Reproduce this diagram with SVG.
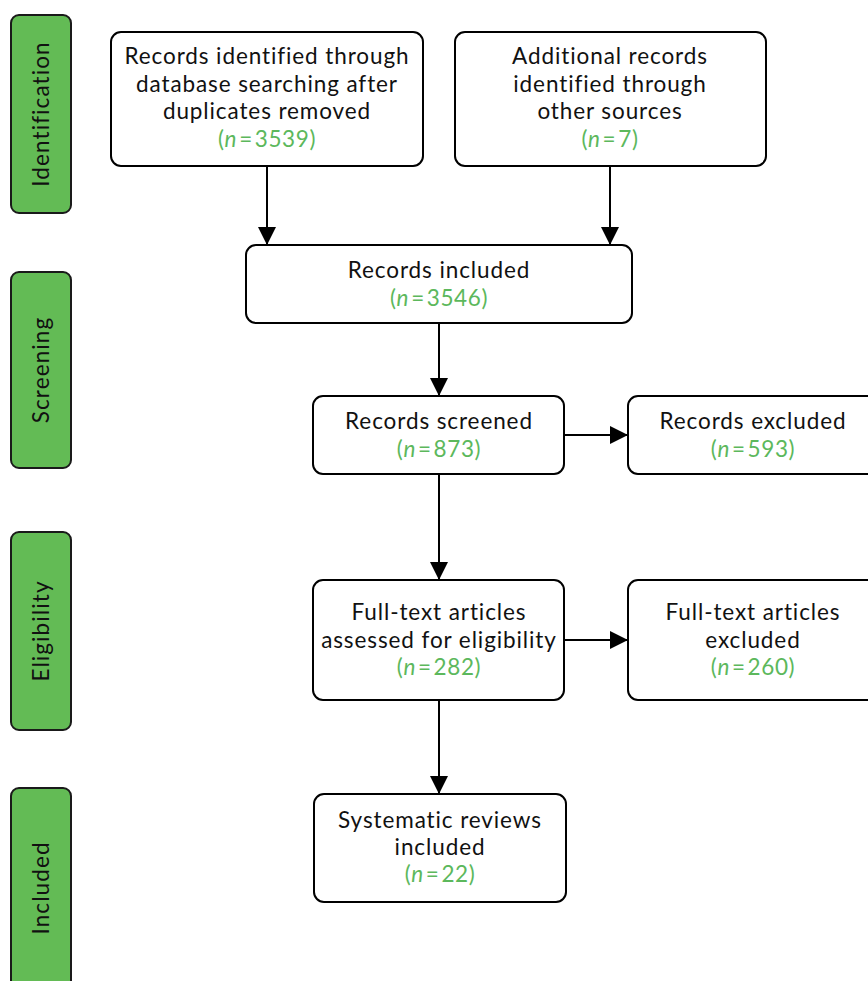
<svg xmlns="http://www.w3.org/2000/svg" width="868" height="981" viewBox="0 0 868 981">
  <style>
    .box { fill: #ffffff; stroke: #000000; stroke-width: 2; }
    .stage { fill: #63bb55; stroke: #1a1a1a; stroke-width: 2; }
    .t { font-family: Lato, "Noto Sans", sans-serif; font-size: 22.5px; letter-spacing: 0.9px; fill: #111111; text-anchor: middle; }
    .n { fill: #5cb85c; letter-spacing: 0.6px; }
    .st { font-family: Lato, "Noto Sans", sans-serif; font-size: 22.5px; letter-spacing: 1.1px; fill: #111111; text-anchor: middle; }
    .edge { stroke: #000000; stroke-width: 2; fill: none; marker-end: url(#arrowHead); }
  </style>
  <defs>
    <marker id="arrowHead" viewBox="0 0 18 18" refX="18" refY="9" markerWidth="18" markerHeight="18" markerUnits="userSpaceOnUse" orient="auto">
      <path d="M0,0 L18,9 L0,18 z" fill="#000000"/>
    </marker>
  </defs>

  <!-- stage labels -->
  <g id="stage-identification">
    <rect class="stage" x="11" y="15" width="60" height="198" rx="8"/>
    <text class="st" transform="translate(49,114) rotate(-90)">Identification</text>
  </g>
  <g id="stage-screening">
    <rect class="stage" x="11" y="272" width="60" height="196" rx="8"/>
    <text class="st" transform="translate(49,370) rotate(-90)">Screening</text>
  </g>
  <g id="stage-eligibility">
    <rect class="stage" x="11" y="532" width="60" height="198" rx="8"/>
    <text class="st" transform="translate(49,631) rotate(-90)">Eligibility</text>
  </g>
  <g id="stage-included">
    <rect class="stage" x="11" y="788" width="60" height="210" rx="8"/>
    <text class="st" transform="translate(49,888) rotate(-90)">Included</text>
  </g>

  <!-- connectors -->
  <g id="connectors">
    <line class="edge" x1="267" y1="166" x2="267" y2="245"/>
    <line class="edge" x1="610" y1="166" x2="610" y2="245"/>
    <line class="edge" x1="439" y1="323" x2="439" y2="396"/>
    <line class="edge" x1="564" y1="435" x2="628" y2="435"/>
    <line class="edge" x1="439" y1="474" x2="439" y2="580"/>
    <line class="edge" x1="564" y1="640" x2="628" y2="640"/>
    <line class="edge" x1="439" y1="700" x2="439" y2="794"/>
  </g>

  <!-- nodes -->
  <g id="records-database">
    <rect class="box" x="111" y="32" width="312" height="134" rx="10"/>
    <text class="t" x="267" y="64">Records identified through</text>
    <text class="t" x="267" y="92">database searching after</text>
    <text class="t" x="267" y="119">duplicates removed</text>
    <text class="t n" x="267" y="147">(<tspan font-style="italic">n</tspan><tspan dx="2">=</tspan><tspan dx="2">3539)</tspan></text>
  </g>
  <g id="records-other">
    <rect class="box" x="455" y="32" width="311" height="134" rx="10"/>
    <text class="t" x="610" y="64">Additional records</text>
    <text class="t" x="610" y="92">identified through</text>
    <text class="t" x="610" y="119">other sources</text>
    <text class="t n" x="610" y="147">(<tspan font-style="italic">n</tspan><tspan dx="2">=</tspan><tspan dx="2">7)</tspan></text>
  </g>
  <g id="records-included">
    <rect class="box" x="246" y="245" width="386" height="78" rx="10"/>
    <text class="t" x="439" y="278">Records included</text>
    <text class="t n" x="439" y="306">(<tspan font-style="italic">n</tspan><tspan dx="2">=</tspan><tspan dx="2">3546)</tspan></text>
  </g>
  <g id="records-screened">
    <rect class="box" x="313" y="396" width="251" height="78" rx="10"/>
    <text class="t" x="439" y="429">Records screened</text>
    <text class="t n" x="439" y="457">(<tspan font-style="italic">n</tspan><tspan dx="2">=</tspan><tspan dx="2">873)</tspan></text>
  </g>
  <g id="records-excluded">
    <rect class="box" x="628" y="396" width="250" height="78" rx="10"/>
    <text class="t" x="753" y="429">Records excluded</text>
    <text class="t n" x="753" y="457">(<tspan font-style="italic">n</tspan><tspan dx="2">=</tspan><tspan dx="2">593)</tspan></text>
  </g>
  <g id="fulltext-assessed">
    <rect class="box" x="313" y="580" width="251" height="120" rx="10"/>
    <text class="t" x="439" y="620">Full-text articles</text>
    <text class="t" x="439" y="648">assessed for eligibility</text>
    <text class="t n" x="439" y="675">(<tspan font-style="italic">n</tspan><tspan dx="2">=</tspan><tspan dx="2">282)</tspan></text>
  </g>
  <g id="fulltext-excluded">
    <rect class="box" x="628" y="580" width="250" height="120" rx="10"/>
    <text class="t" x="753" y="620">Full-text articles</text>
    <text class="t" x="753" y="648">excluded</text>
    <text class="t n" x="753" y="675">(<tspan font-style="italic">n</tspan><tspan dx="2">=</tspan><tspan dx="2">260)</tspan></text>
  </g>
  <g id="reviews-included">
    <rect class="box" x="314" y="794" width="252" height="108" rx="10"/>
    <text class="t" x="440" y="828">Systematic reviews</text>
    <text class="t" x="440" y="855">included</text>
    <text class="t n" x="440" y="882">(<tspan font-style="italic">n</tspan><tspan dx="2">=</tspan><tspan dx="2">22)</tspan></text>
  </g>
</svg>
